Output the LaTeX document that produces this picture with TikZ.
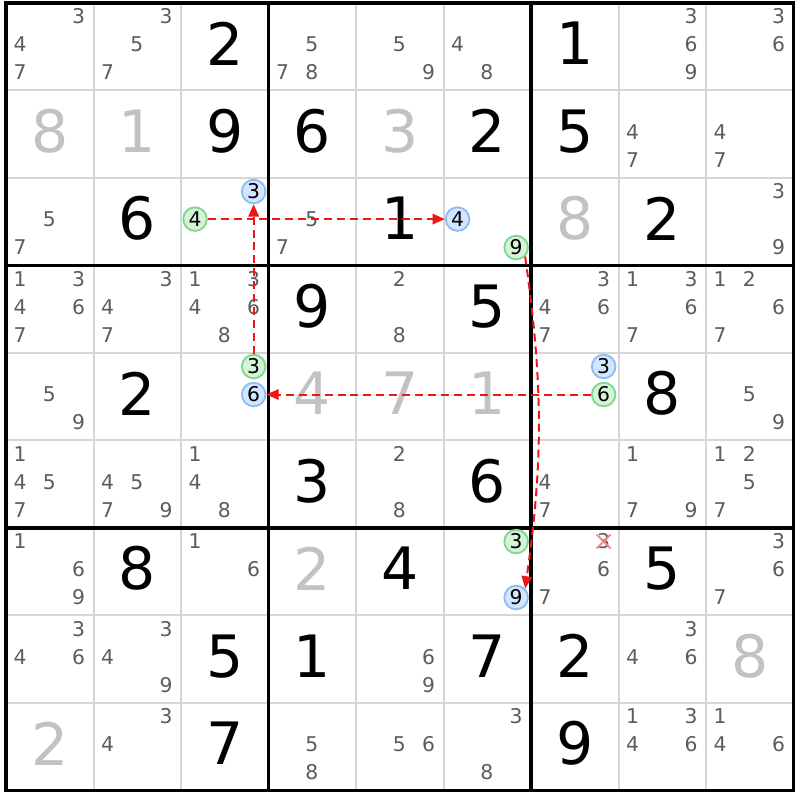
\documentclass[tikz,border=0pt]{standalone}
\usepackage{fontspec}
\setmainfont{DejaVu Sans}
\usetikzlibrary{arrows.meta}

\definecolor{pencilgray}{HTML}{5C5C5C}
\definecolor{solvedgray}{HTML}{C2C2C2}
\definecolor{gridgray}{HTML}{D6D6D6}
\definecolor{greenfill}{HTML}{D6F3DA}
\definecolor{greenline}{HTML}{80D890}
\definecolor{bluefill}{HTML}{D2E7FF}
\definecolor{blueline}{HTML}{8DBDF0}
\definecolor{linkred}{HTML}{F01414}

\tikzset{
  given/.style={font=\fontsize{19}{19}\selectfont, text=black, inner sep=0pt, yshift=1pt},
  solved/.style={font=\fontsize{19}{19}\selectfont, text=solvedgray, inner sep=0pt, yshift=1pt},
  pencil/.style={font=\fontsize{6.6}{7}\selectfont, text=pencilgray, inner sep=0pt},
  oncand/.style={circle, draw=greenline, fill=greenfill, line width=0.6pt, minimum size=0.27cm,
    inner sep=0pt, text=black, font=\fontsize{6.6}{7}\selectfont},
  offcand/.style={circle, draw=blueline, fill=bluefill, line width=0.6pt, minimum size=0.27cm,
    inner sep=0pt, text=black, font=\fontsize{6.6}{7}\selectfont},
  linkarrow/.style={color=linkred, line width=0.65pt, dash pattern=on 2.6pt off 1.6pt,
    -{Triangle[length=4pt, width=3.4pt]}},
  xmark/.style={color=red!50, line width=0.55pt}
}

\begin{document}
\begin{tikzpicture}
  \useasboundingbox[fill=white] (-0.069,-0.109) rectangle (9.074,9.034);

  % grid
  \foreach \i in {1,2,4,5,7,8} {
    \draw[gridgray, line width=0.65pt] (\i,0) -- (\i,9);
    \draw[gridgray, line width=0.65pt] (0,\i) -- (9,\i);
  }
  \foreach \i in {0,3,6,9} {
    \draw[black, line width=1.05pt] (\i,-0.02) -- (\i,9.02);
    \draw[black, line width=1.05pt] (-0.02,\i) -- (9.02,\i);
  }

  % big digits
  \foreach \r/\c/\d/\s in {1/3/2/given, 1/7/1/given,
      2/1/8/solved, 2/2/1/solved, 2/3/9/given, 2/4/6/given, 2/5/3/solved, 2/6/2/given, 2/7/5/given,
      3/2/6/given, 3/5/1/given, 3/7/8/solved, 3/8/2/given,
      4/4/9/given, 4/6/5/given,
      5/2/2/given, 5/4/4/solved, 5/5/7/solved, 5/6/1/solved, 5/8/8/given,
      6/4/3/given, 6/6/6/given,
      7/2/8/given, 7/4/2/solved, 7/5/4/given, 7/8/5/given,
      8/3/5/given, 8/4/1/given, 8/6/7/given, 8/7/2/given, 8/9/8/solved,
      9/1/2/solved, 9/3/7/given, 9/7/9/given}
    \node[\s] (n\r\c) at (\c-0.5, 9.5-\r) {\d};

  % pencil marks
  \foreach \r/\c/\l in {1/1/{3,4,7}, 1/2/{3,5,7}, 1/4/{5,7,8}, 1/5/{5,9}, 1/6/{4,8}, 1/8/{3,6,9}, 1/9/{3,6},
      2/8/{4,7}, 2/9/{4,7},
      3/1/{5,7}, 3/4/{5,7}, 3/9/{3,9},
      4/1/{1,3,4,6,7}, 4/2/{3,4,7}, 4/3/{1,3,4,6,8}, 4/5/{2,8}, 4/7/{3,4,6,7}, 4/8/{1,3,6,7}, 4/9/{1,2,6,7},
      5/1/{5,9}, 5/9/{5,9},
      6/1/{1,4,5,7}, 6/2/{4,5,7,9}, 6/3/{1,4,8}, 6/5/{2,8}, 6/7/{4,7}, 6/8/{1,7,9}, 6/9/{1,2,5,7},
      7/1/{1,6,9}, 7/3/{1,6}, 7/7/{3,6,7}, 7/9/{3,6,7},
      8/1/{3,4,6}, 8/2/{3,4,9}, 8/5/{6,9}, 8/8/{3,4,6},
      9/2/{3,4}, 9/4/{5,8}, 9/5/{5,6}, 9/6/{3,8}, 9/8/{1,3,4,6}, 9/9/{1,4,6}}
    \foreach \d in \l
      \node[pencil] (p\r\c\d) at ({\c-1+0.16+0.335*mod(\d-1,3)}, {10-\r-0.155-0.32*int((\d-1)/3)}) {\d};

  % candidates in the chain
  \node[offcand] (b333) at (2.83,6.845) {3};
  \node[oncand]  (g334) at (2.16,6.53) {4};
  \node[offcand] (b364) at (5.16,6.53) {4};
  \node[oncand]  (g369) at (5.83,6.205) {9};
  \node[oncand]  (g533) at (2.83,4.845) {3};
  \node[offcand] (b536) at (2.83,4.525) {6};
  \node[offcand] (b573) at (6.83,4.845) {3};
  \node[oncand]  (g576) at (6.83,4.525) {6};
  \node[oncand]  (g763) at (5.83,2.845) {3};
  \node[offcand] (b769) at (5.83,2.205) {9};

  % links
  \draw[linkarrow] (g533) -- (b333);
  \draw[linkarrow] (g334) -- (b364);
  \draw[linkarrow] (g369.south east) to[bend left=8] (b769.north east);
  \draw[linkarrow] (g576) -- (b536);

  % eliminated candidate
  \draw[xmark] ([shift={(-0.08,-0.08)}]p773.center) -- ([shift={(0.08,0.08)}]p773.center);
  \draw[xmark] ([shift={(-0.08,0.08)}]p773.center) -- ([shift={(0.08,-0.08)}]p773.center);
\end{tikzpicture}
\end{document}
